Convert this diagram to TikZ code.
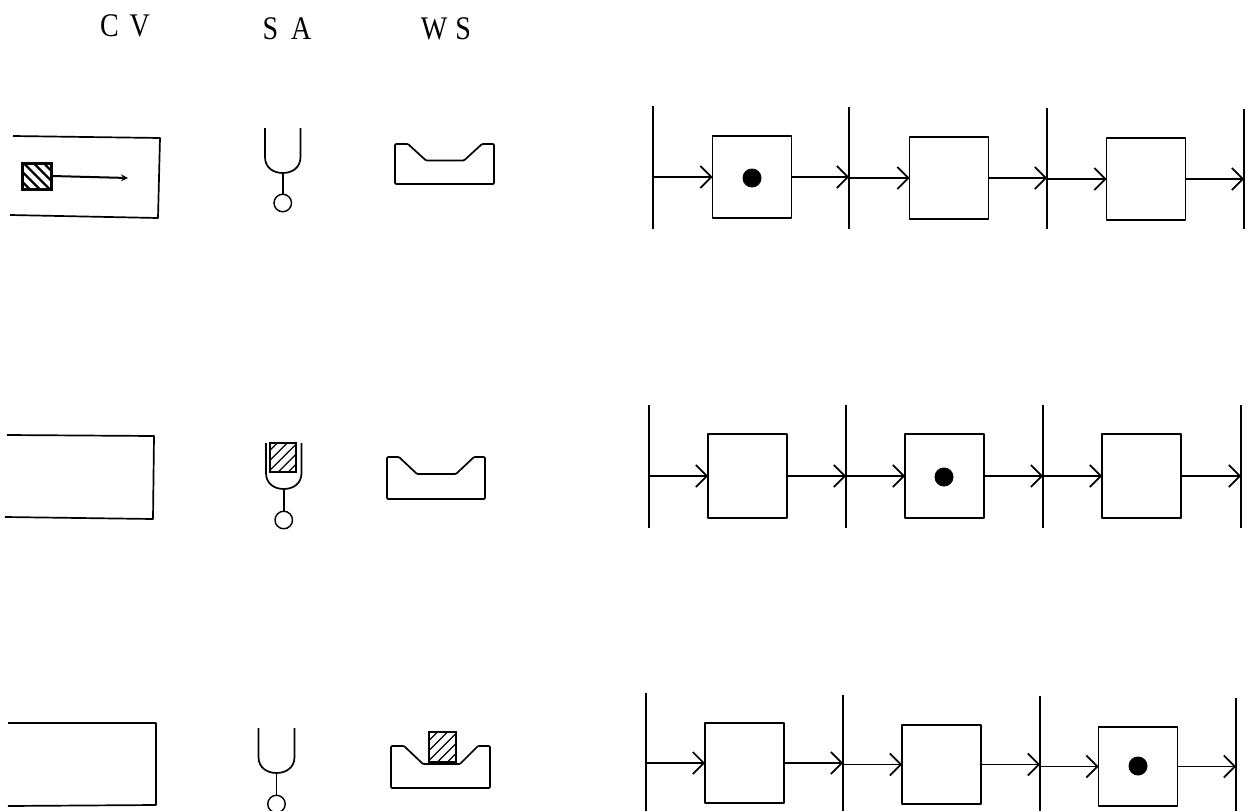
\documentclass[tikz,border=0pt]{standalone}
\usepackage{fontspec}
\setmainfont[FakeStretch=0.85]{Liberation Serif}
\usetikzlibrary{arrows.meta}
\tikzset{
  x=1pt,y=-1pt,
  ink/.style={line width=1.7pt,black,line join=round},
  flowbox/.style={ink,draw,fill=white,minimum width=79pt,inner sep=0pt,outer sep=0pt},
  token/.style={circle,fill=black,minimum size=19pt,inner sep=0pt},
  rail/.style={ink},
  conn/.style={ink,-{Straight Barb[length=11pt,width=22pt,line width=1.7pt]}},
  pivot/.style={line width=1.4pt,draw,circle,minimum size=17.5pt,inner sep=0pt,outer sep=0pt},
  hdr/.style={font=\fontsize{33}{33}\selectfont,inner sep=0pt},
  small/.style={ink,line width=2pt,-{Stealth[length=7pt,width=7pt]}}
}
% \flowrow{prefix}{x1}{x2}{x3}{x4}{ytop}{ybottom}{top slope}
\newcommand{\flowrow}[8]{%
  \foreach \n/\xx in {1/#2,2/#3,3/#4,4/#5}{%
    \coordinate (#1t\n) at (\xx,{#6+(\n-1)*#8});
    \coordinate (#1b\n) at (\xx,#7);
    \draw[rail] (#1t\n) -- (#1b\n);
  }%
}
\newcommand{\flowconn}[1]{%
  \draw[conn] (#1A.west -| #1t1) -- (#1A.west);
  \draw[conn] (#1A.east) -- (#1A.east -| #1t2);
  \draw[conn] (#1B.west -| #1t2) -- (#1B.west);
  \draw[conn] (#1B.east) -- (#1B.east -| #1t3);
  \draw[conn] (#1C.west -| #1t3) -- (#1C.west);
  \draw[conn] (#1C.east) -- (#1C.east -| #1t4);
}
% \forkshape{name}{xleft}{xright}{ytop}{ybottom}{circle cy}
\newcommand{\forkshape}[6]{%
  \coordinate (#1low) at ({(#2+#3)/2},#5);
  \draw[ink] (#2,#4) -- (#2,#5-16) .. controls (#2,#5-5) and ({(#2+#3)/2-9},#5) .. (#1low)
     .. controls ({(#2+#3)/2+9},#5) and (#3,#5-5) .. (#3,#5-16) -- (#3,#4);
  \node[pivot] (#1c) at ({(#2+#3)/2},#6) {};
  \draw[ink] (#1low) -- (#1c);
}
% \trough{x0}{x1}{x2}{x3}{x4}{x5}{ytop}{yfloor}{ybottom}
\newcommand{\trough}[9]{%
  \draw[ink,rounded corners=1pt] (#1,#9) -- (#1,#7) -- (#2,#7) -- (#3,#8) -- (#4,#8) -- (#5,#7) -- (#6,#7) -- (#6,#9) -- cycle;
}
% \hatchsq{x0}{y0}{x1}{y1}{direction}{line width}{frame width}
\newcommand{\hatchsq}[7]{%
  \begin{scope}
    \clip (#1,#2) rectangle (#3,#4);
    \fill[white] (#1,#2) rectangle (#3,#4);
    \foreach \k in {-50,-40,...,50}{%
      \draw[line width=#6] ({(#1+#3)/2+\k-40*#5},{(#2+#4)/2-40}) -- ({(#1+#3)/2+\k+40*#5},{(#2+#4)/2+40});
    }
  \end{scope}
  \draw[line width=#7] (#1,#2) rectangle (#3,#4);
}
\begin{document}
\begin{tikzpicture}
\useasboundingbox (0,0) rectangle (1250,811);
\fill[white] (0,0) rectangle (1250,811);

\node[hdr] (hcv) at (125,26) {C\kern11pt V};
\node[hdr] (hsa) at (287,29) {S\kern13pt A};
\node[hdr] (hws) at (446,29) {W\kern8pt S};

% Row 1
\draw[ink] (13,136) -- (160,138) -- (158,218) -- (10,215);
\hatchsq{22.5}{163.5}{51.5}{189.5}{1}{2.4pt}{2.2pt}
\coordinate (src) at (52,176);
\coordinate (dst) at (128,178);
\draw[small] (src) -- (dst);
\forkshape{fa}{265}{300.5}{128}{173}{203}
\trough{395}{408}{426}{464}{482}{494}{144}{160.5}{184}

\flowrow{r}{653}{849}{1047}{1244}{106}{229}{1}
\node[flowbox,minimum height=82pt] (rA) at (752,177) {};
\node[flowbox,minimum height=82pt] (rB) at (949,178) {};
\node[flowbox,minimum height=82pt] (rC) at (1146,179) {};
\node[token] (rdot) at (752,178) {};
\flowconn{r}

% Row 2
\draw[ink] (7,435) -- (154,436) -- (153,519) -- (5,517);
\forkshape{fb}{266}{301.5}{443}{489}{520}
\hatchsq{269.5}{443}{296}{472}{-1}{1.3pt}{2pt}
\trough{387}{399}{417}{456}{474}{485}{457}{474}{499}

\flowrow{s}{649}{846}{1043}{1241}{405}{528}{0}
\node[flowbox,minimum height=84pt] (sA) at (747.5,476) {};
\node[flowbox,minimum height=84pt] (sB) at (944.5,476) {};
\node[flowbox,minimum height=84pt] (sC) at (1141.5,476) {};
\node[token] (sdot) at (944,477) {};
\flowconn{s}

% Row 3
\draw[ink] (8,723) -- (156,723) -- (156,805) -- (8,806);
\forkshape{fc}{258.5}{294.5}{728}{773}{804}
\trough{391}{404}{423}{460}{478}{490}{746}{764}{788}
\hatchsq{429}{732}{456}{762}{-1}{1.3pt}{2pt}

\flowrow{t}{646}{843}{1040}{1236}{693}{811}{1.7}
\node[flowbox,minimum height=80pt] (tA) at (744.5,763) {};
\node[flowbox,minimum height=79pt] (tB) at (941.5,764.5) {};
\node[flowbox,minimum height=79pt] (tC) at (1138,766.5) {};
\node[token] (tdot) at (1138,766) {};
\flowconn{t}
\end{tikzpicture}
\end{document}
